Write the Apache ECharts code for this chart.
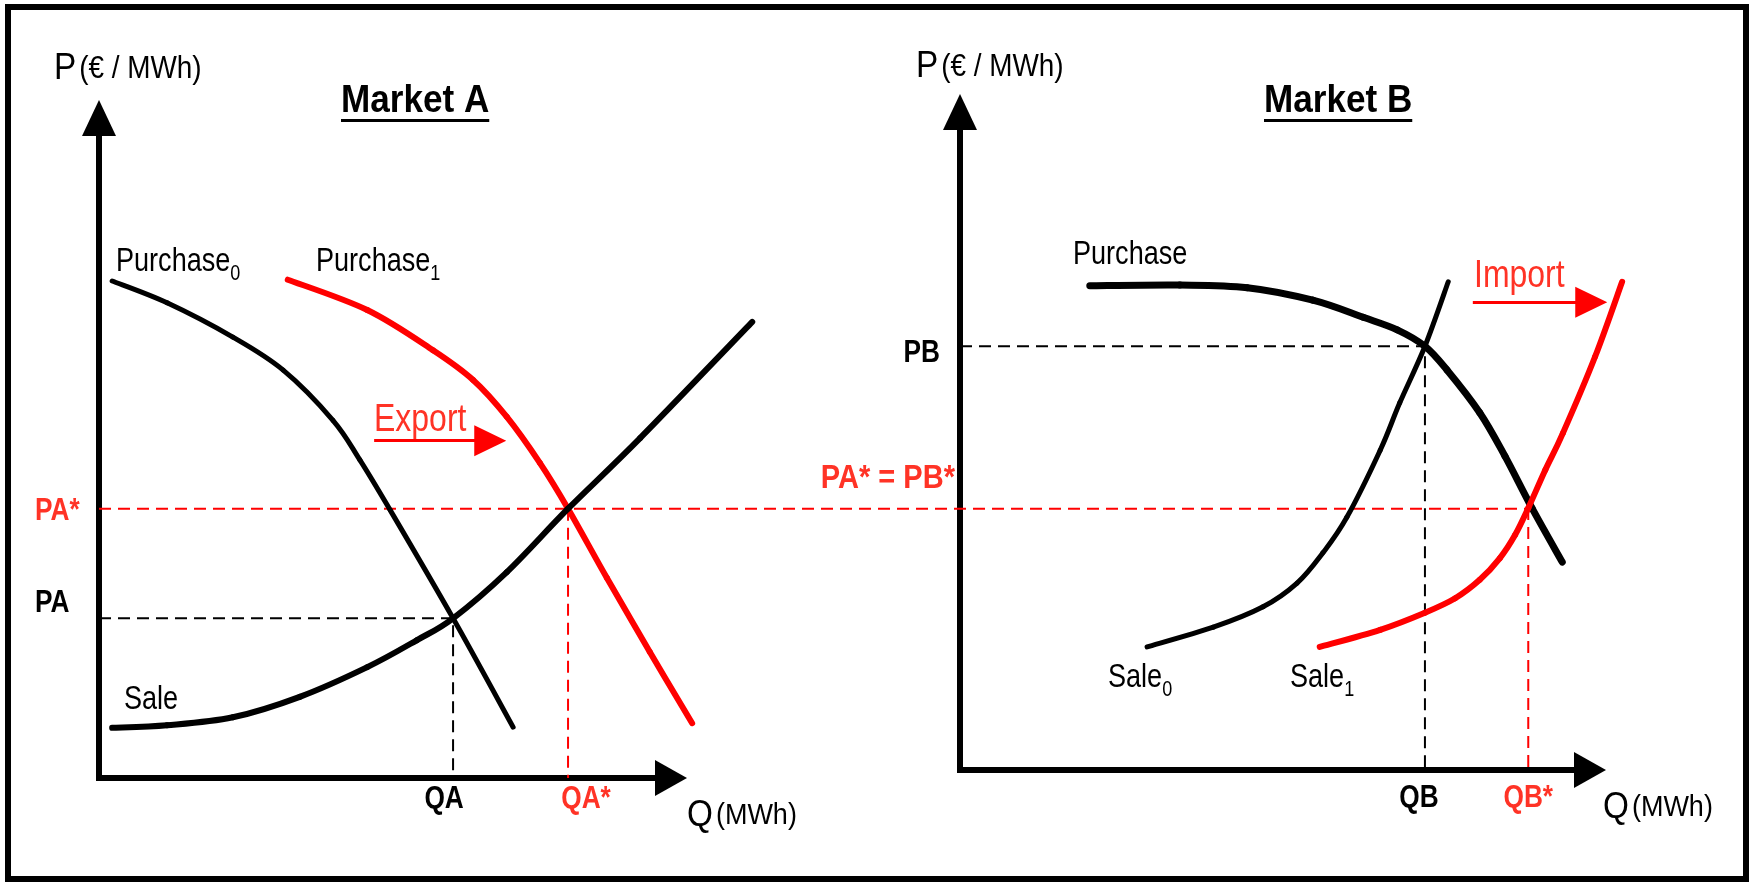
<!DOCTYPE html>
<html>
<head>
<meta charset="utf-8">
<title>Market coupling A / B</title>
<style>
  html, body { margin: 0; padding: 0; background: #fff; }
  #main { width: 1752px; height: 883px; }
</style>
</head>
<body>
<div id="main"></div>
<script src="https://cdn.jsdelivr.net/npm/echarts@6.0.0/dist/echarts.min.js"></script>
<script>
// Q and P in arbitrary units, the drawn axes run 0..100

// Market A
const purchaseA0 = [[2.3, 75.3], [11.9, 72.0], [23.4, 66.8], [32.2, 61.8], [40.9, 54.2], [45.6, 48.2],
  [50.9, 40.6], [61.9, 24.2], [72.4, 7.7]];
const purchaseA1 = [[33.0, 75.5], [46.9, 70.9], [58.4, 64.8], [65.4, 60.3], [71.3, 54.7], [77.1, 47.7],
  [82.0, 40.8], [88.8, 30.3], [96.3, 19.1], [103.7, 8.3]];
const saleA = [[2.3, 7.6], [11.9, 8.0], [23.4, 9.2], [35.1, 12.3], [46.9, 16.8], [55.6, 20.9],
  [61.9, 24.2], [71.3, 31.2], [82.0, 40.8], [94.6, 51.5], [114.2, 69.1]];
const QA = 61.9, PA = 24.2, QA_STAR = 82.0, PA_STAR = 40.8;
const exportArrow = [[48.1, 51.1], [68.4, 51.1]];

// Market B
const purchaseB = [[20.6, 73.6], [34.9, 73.7], [45.6, 73.3], [56.0, 71.4], [64.0, 68.8], [69.4, 66.9],
  [73.8, 64.4], [77.3, 60.8], [82.5, 54.3], [86.5, 47.7], [90.8, 39.8], [95.6, 31.6]];
const saleB0 = [[29.7, 18.7], [40.2, 21.7], [48.1, 24.8], [53.5, 28.4], [57.6, 33.0], [61.4, 38.4],
  [66.7, 48.6], [69.8, 55.8], [73.8, 64.4], [77.5, 74.2]];
const saleB1 = [[57.1, 18.7], [66.7, 21.3], [73.8, 23.9], [78.6, 26.1], [82.5, 28.9], [85.7, 32.2],
  [88.1, 35.7], [90.2, 39.8], [92.9, 45.6], [95.7, 51.2], [100.8, 62.8], [105.1, 74.2]];
const QB = 73.8, PB = 64.4, QB_STAR = 90.2, PB_STAR = 39.8;
const importArrow = [[81.4, 71.1], [100.2, 71.1]];

const RED = '#ff0000';
const TXT_RED = '#ff3326';
const FONT = '"Liberation Sans", Arial, sans-serif';
const NARROW = 0.82; // the original face is a narrow sans, squeeze the regular one

// graphic text goes straight to zrender, which wants fill rather than color
const tok = (color, size, weight, extra) =>
  Object.assign({ fill: color, color: color, fontFamily: FONT, fontSize: size, fontWeight: weight || 'normal' }, extra || {});

const axisLine = size => ({
  show: true,
  onZero: false,
  symbol: ['none', 'triangle'],
  symbolSize: size,
  lineStyle: { color: '#000', width: 6, cap: 'square' }
});

const visibleAxis = (grid, size) => ({
  type: 'value', gridIndex: grid, min: 0, max: 100,
  axisLine: axisLine(size),
  axisTick: { show: false },
  splitLine: { show: false },
  axisLabel: { show: false }
});

// hidden axes of the plotting grids: same scale as the drawn axes, only longer,
// so the curves may run past the arrow heads like in the original
const hiddenAxis = (grid, max) => ({
  type: 'value', gridIndex: grid, min: 0, max: max, show: false,
  axisLine: { show: false }, axisTick: { show: false }, axisLabel: { show: false }, splitLine: { show: false }
});

// smooth curve through the read points: one catmull-rom piece per data item,
// positioned with api.coord so it follows the axes
function curve(name, grid, pts, color, width) {
  const last = pts.length - 1;
  return {
    name: name, type: 'custom', coordinateSystem: 'cartesian2d', xAxisIndex: grid, yAxisIndex: grid,
    data: pts, encode: { x: 0, y: 1 }, silent: true, z: 4, clip: false,
    renderItem: function (params, api) {
      const i = params.dataIndex;
      if (i >= last) return null;
      const c = k => api.coord(pts[Math.max(0, Math.min(last, k))]);
      const p0 = c(i - 1), p1 = c(i), p2 = c(i + 1), p3 = c(i + 2);
      return {
        type: 'bezierCurve',
        shape: {
          x1: p1[0], y1: p1[1], x2: p2[0], y2: p2[1],
          cpx1: p1[0] + (p2[0] - p0[0]) / 6, cpy1: p1[1] + (p2[1] - p0[1]) / 6,
          cpx2: p2[0] - (p3[0] - p1[0]) / 6, cpy2: p2[1] - (p3[1] - p1[1]) / 6
        },
        style: { fill: 'none', stroke: color, lineWidth: width, lineCap: 'round' }
      };
    }
  };
}

const dashed = (id, grid, data, color) => ({
  id: id, type: 'line', xAxisIndex: grid, yAxisIndex: grid, data: data,
  symbol: 'none', clip: false, z: 3, silent: true,
  lineStyle: { color: color, width: 2, type: [12, 7] }
});

const arrow = (grid, data) => ({
  type: 'line', xAxisIndex: grid, yAxisIndex: grid, data: [], silent: true,
  markLine: {
    silent: true, animation: false,
    symbol: ['none', 'triangle'], symbolSize: [31, 32],
    label: { show: false },
    lineStyle: { color: RED, width: 3, type: 'solid' },
    data: [[{ coord: data[0] }, { coord: data[1] }]]
  }
});

function label(text, x, y, sx, align) {
  return { type: 'text', x: x, y: y, scaleX: sx || NARROW, silent: true,
    style: { text: text, rich: rich, fontFamily: FONT, align: align || 'left', verticalAlign: 'middle' } };
}

function title(text, x, y) {
  const font = 'bold 39px ' + FONT;
  const ctx = document.createElement('canvas').getContext('2d');
  ctx.font = font;
  const w = ctx.measureText(text).width;
  return { type: 'group', x: x, y: y, scaleX: 0.9, silent: true, children: [
    { type: 'text', style: { text: text, font: font, fill: '#000', align: 'left', verticalAlign: 'middle' } },
    { type: 'rect', shape: { x: 0, y: 18, width: w, height: 3 }, style: { fill: '#000' } }
  ] };
}

const rich = {
  m: tok('#000', 33, 'normal', { lineHeight: 46 }),
  s: tok('#000', 22, 'normal', { verticalAlign: 'bottom', lineHeight: 22 }),
  e: tok(TXT_RED, 39, 'normal'),
  p: tok('#000', 37, 'normal'),
  u: tok('#000', 31, 'normal'),
  v: tok('#000', 30, 'normal'),
  k: tok('#000', 32, 'bold'),
  r: tok(TXT_RED, 32, 'bold'),
  rr: tok(TXT_RED, 33, 'bold')
};

const chart = echarts.init(document.getElementById('main'));

chart.setOption({
  animation: false,
  backgroundColor: '#fff',
  grid: [
    { left: 99, top: 118, width: 572, height: 660, outerBoundsMode: 'none' },
    { left: 960, top: 112, width: 630, height: 658, outerBoundsMode: 'none' },
    { left: 99, top: 118, width: 572 * 2.6, height: 660, outerBoundsMode: 'none' },
    { left: 960, top: 112, width: 630 * 1.2, height: 658, outerBoundsMode: 'none' }
  ],
  xAxis: [visibleAxis(0, [36, 32]), visibleAxis(1, [36, 32]), hiddenAxis(2, 260), hiddenAxis(3, 120)],
  yAxis: [visibleAxis(0, [34, 36]), visibleAxis(1, [34, 36]), hiddenAxis(2, 100), hiddenAxis(3, 100)],
  series: [
    dashed('dashA', 2, [[0, PA], [QA, PA], [QA, 0]], '#000'),
    dashed('dashAstarV', 2, [[QA_STAR, PA_STAR], [QA_STAR, 0]], RED),
    dashed('dashStarH', 2, [[0, PA_STAR], [QA_STAR, PA_STAR]], RED),
    dashed('dashB', 3, [[0, PB], [QB, PB], [QB, 0]], '#000'),
    dashed('dashBstarV', 3, [[QB_STAR, PB_STAR], [QB_STAR, 0]], RED),
    curve('Purchase0', 2, purchaseA0, '#000', 5),
    curve('Purchase1', 2, purchaseA1, RED, 6),
    curve('Sale', 2, saleA, '#000', 6),
    curve('Purchase', 3, purchaseB, '#000', 7),
    curve('Sale0', 3, saleB0, '#000', 5),
    curve('Sale1', 3, saleB1, RED, 6),
    arrow(2, exportArrow),
    arrow(3, importArrow)
  ]
});

// positions taken from the axes themselves
const pA = v => chart.convertToPixel({ gridIndex: 0 }, v);
const pB = v => chart.convertToPixel({ gridIndex: 1 }, v);
const qa = pA([QA, 0]), qas = pA([QA_STAR, 0]), pa = pA([0, PA]), pas = pA([0, PA_STAR]);
const qb = pB([QB, 0]), qbs = pB([QB_STAR, 0]), pb = pB([0, PB]), pbs = pB([0, PB_STAR]);

// PA* = PB*: the horizontal line runs from market A's axis to market B's equilibrium
const endQ = chart.convertFromPixel({ gridIndex: 2 }, chart.convertToPixel({ gridIndex: 3 }, [QB_STAR, PB_STAR]))[0];

chart.setOption({
  series: [{ id: 'dashStarH', data: [[0, PA_STAR], [endQ, PA_STAR]] }],
  graphic: [
    { type: 'rect', silent: true, shape: { x: 8, y: 7, width: 1738, height: 872 },
      style: { fill: null, stroke: '#000', lineWidth: 6 } },
    title('Market A', 341, 101),
    title('Market B', 1264, 101),

    // axis marks
    label('{k|QA}', qa[0] - 9, qa[1] + 21, NARROW, 'center'),
    label('{r|QA*}', qas[0] + 18, qas[1] + 21, NARROW, 'center'),
    label('{k|PA}', pa[0] - 64, pa[1] - 15, NARROW, 'left'),
    label('{r|PA*}', pas[0] - 64, pas[1] + 2, NARROW, 'left'),
    label('{k|QB}', qb[0] - 6, qb[1] + 28, NARROW, 'center'),
    label('{r|QB*}', qbs[0], qbs[1] + 28, NARROW, 'center'),
    label('{k|PB}', pb[0] - 20, pb[1] + 7, NARROW, 'right'),
    label('{rr|PA* = PB*}', pbs[0] - 5, pbs[1] - 29, 0.88, 'right'),

    // axis names
    label('{p|P} {u|(€ / MWh)}', 54, 69, 0.9),
    label('{p|P} {u|(€ / MWh)}', 916, 67, 0.9),
    label('{p|Q} {v|(MWh)}', 687, 816, 0.9),
    label('{p|Q} {v|(MWh)}', 1603, 808, 0.9),

    // curve names
    label('{m|Purchase}{s|0}', 116, 262),
    label('{m|Purchase}{s|1}', 316, 262),
    label('{m|Sale}', 124, 700),
    label('{m|Purchase}', 1073, 255),
    label('{m|Sale}{s|0}', 1108, 678),
    label('{m|Sale}{s|1}', 1290, 678),
    label('{e|Export}', 374, 420),
    label('{e|Import}', 1474, 276)
  ]
});
</script>
</body>
</html>
